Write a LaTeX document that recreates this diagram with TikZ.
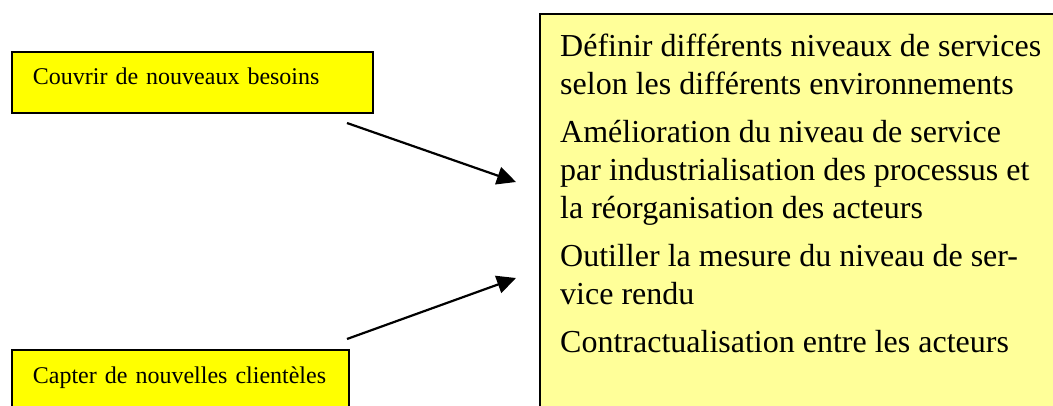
\documentclass[tikz,border=0pt]{standalone}
\usepackage{fontspec}
\setmainfont{Liberation Serif}
\usetikzlibrary{arrows.meta}
\definecolor{boxyellow}{HTML}{FFFF00}
\definecolor{paleyellow}{HTML}{FFFF99}
\begin{document}
\begin{tikzpicture}[x=1pt,y=-1pt,
  smallbox/.style={draw=black, line width=1.8pt, fill=boxyellow, inner xsep=21pt, align=left,
    font=\fontsize{24}{28}\selectfont},
  bigbox/.style={draw=black, line width=2pt, fill=paleyellow},
  itemtext/.style={inner sep=0pt, align=left, font=\fontsize{32}{38}\selectfont},
  arrowline/.style={line width=2.2pt, -{Triangle[length=19pt,width=18pt]}}]
\clip (0,0) rectangle (1053,405);
\fill[white] (0,0) rectangle (1053,405);
\node[smallbox, anchor=north west, text width=319pt, minimum height=61pt, text height=14pt, text depth=9pt] (need) at (11,51) {Couvrir de nouveaux besoins};
\node[smallbox, anchor=north west, text width=295pt, minimum height=68pt, text height=12pt, text depth=12pt] (clients) at (11,349) {Capter de nouvelles clientèles};
\node[bigbox, anchor=north west, minimum width=540pt, minimum height=420pt] (goals) at (539,13) {};
\node[itemtext, anchor=north west] (items) at (560,34) {Définir différents niveaux de services\\
selon les différents environnements\\[10pt]
Amélioration du niveau de service\\
par industrialisation des processus et\\
la réorganisation des acteurs\\[10pt]
Outiller la mesure du niveau de ser-\\
vice rendu\\[10pt]
Contractualisation entre les acteurs};
\coordinate (a1s) at (347,123);
\coordinate (a1e) at (516,182);
\coordinate (a2s) at (347,339);
\coordinate (a2e) at (516,278);
\draw[arrowline] (a1s) -- (a1e);
\draw[arrowline] (a2s) -- (a2e);
\end{tikzpicture}
\end{document}
